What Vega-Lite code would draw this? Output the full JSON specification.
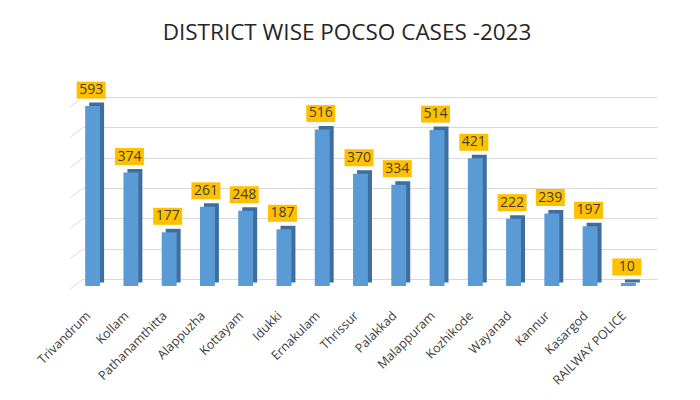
{
  "$schema": "https://vega.github.io/schema/vega-lite/v6.json",
  "autosize": "none",
  "width": 574,
  "height": 182,
  "padding": {"left": 83, "top": 97, "right": 43, "bottom": 121},
  "background": "white",
  "title": {
    "text": "DISTRICT WISE POCSO CASES -2023",
    "font": "Open Sans",
    "fontSize": 22.5,
    "fontWeight": "normal",
    "color": "#262626",
    "anchor": "middle",
    "dx": -23,
    "offset": 37
  },
  "config": {
    "view": {"stroke": null},
    "font": "Open Sans"
  },
  "datasets": {
    "cases": [
      {"district": "Trivandrum", "cases": 593},
      {"district": "Kollam", "cases": 374},
      {"district": "Pathanamthitta", "cases": 177},
      {"district": "Alappuzha", "cases": 261},
      {"district": "Kottayam", "cases": 248},
      {"district": "Idukki", "cases": 187},
      {"district": "Ernakulam", "cases": 516},
      {"district": "Thrissur", "cases": 370},
      {"district": "Palakkad", "cases": 334},
      {"district": "Malappuram", "cases": 514},
      {"district": "Kozhikode", "cases": 421},
      {"district": "Wayanad", "cases": 222},
      {"district": "Kannur", "cases": 239},
      {"district": "Kasargod", "cases": 197},
      {"district": "RAILWAY POLICE", "cases": 10}
    ],
    "grid": [
      {"g": 0}, {"g": 100}, {"g": 200}, {"g": 300}, {"g": 400}, {"g": 500}, {"g": 600}
    ]
  },
  "encoding": {
    "x": {
      "field": "district",
      "type": "nominal",
      "sort": null,
      "scale": {"paddingInner": 0, "paddingOuter": 0},
      "axis": {
        "title": null,
        "labelAngle": -45,
        "labelFontSize": 12.5,
        "labelColor": "#404040",
        "labelFont": "Open Sans",
        "ticks": false,
        "tickSize": 0,
        "domain": false,
        "labelPadding": 30,
        "labelOffset": -18
      }
    },
    "y": {
      "type": "quantitative",
      "scale": {"domain": [0, 600]},
      "axis": {"title": null, "labels": false, "ticks": false, "domain": false, "grid": true, "gridColor": "#D9D9D9", "values": [0, 100, 200, 300, 400, 500, 600]}
    }
  },
  "layer": [
    {
      "data": {"name": "grid"},
      "mark": {"type": "rule", "color": "#D9D9D9", "strokeWidth": 1, "xOffset": -19, "x2Offset": -32, "y2Offset": 10},
      "encoding": {
        "x": {"datum": "Trivandrum"},
        "x2": {"datum": "Trivandrum"},
        "y": {"field": "g", "type": "quantitative"},
        "y2": {"field": "g"}
      }
    },
    {
      "data": {"name": "cases"},
      "mark": {"type": "bar", "color": "#3E6E9E", "width": {"band": 0.39}, "xOffset": -5.5, "x2Offset": -5.5, "yOffset": 3.5, "y2Offset": 3.5},
      "encoding": {
        "y": {"field": "cases", "type": "quantitative"}
      }
    },
    {
      "data": {"name": "cases"},
      "mark": {"type": "bar", "color": "#5B9BD5", "width": {"band": 0.39}, "xOffset": -9.5, "x2Offset": -9.5, "yOffset": 7, "y2Offset": 7},
      "encoding": {
        "y": {"field": "cases", "type": "quantitative"}
      }
    },
    {
      "data": {"name": "cases"},
      "mark": {"type": "tick", "color": "#FFC000", "opacity": 1, "size": 29, "thickness": 17, "xOffset": -11, "yOffset": -9},
      "encoding": {
        "y": {"field": "cases", "type": "quantitative"}
      }
    },
    {
      "data": {"name": "cases"},
      "mark": {"type": "text", "color": "#404040", "fontSize": 14, "font": "Open Sans", "baseline": "middle", "align": "center", "xOffset": -11, "yOffset": -9},
      "encoding": {
        "y": {"field": "cases", "type": "quantitative"},
        "text": {"field": "cases", "type": "quantitative"}
      }
    }
  ]
}
